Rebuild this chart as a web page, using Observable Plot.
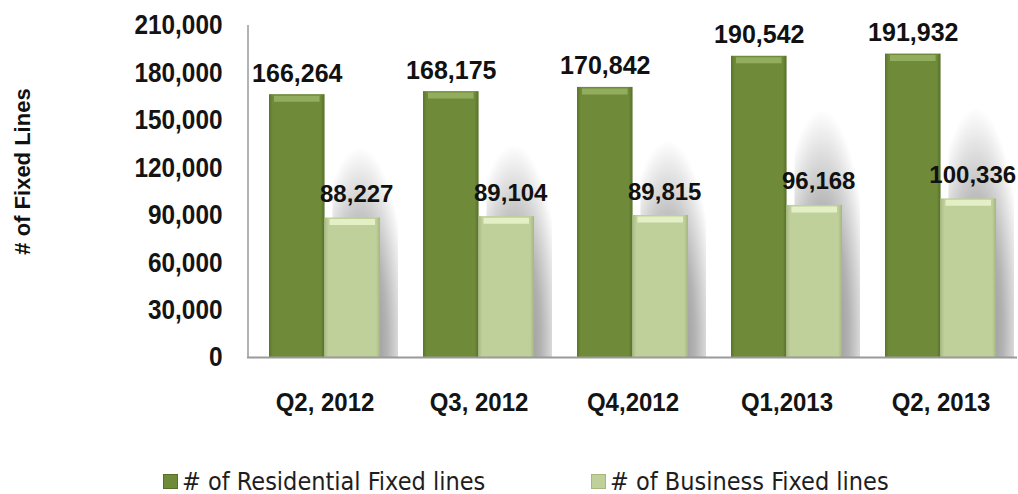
<!DOCTYPE html>
<html>
<head>
<meta charset="utf-8">
<script src="https://cdn.jsdelivr.net/npm/d3@7"></script>
<script src="https://cdn.jsdelivr.net/npm/@observablehq/plot@0.6"></script>
<style>
  html, body { margin: 0; padding: 0; background: #fff; }
  #wrap { position: relative; width: 1018px; height: 494px; overflow: hidden; }
  #legend { position: absolute; left: 0; top: 468px; width: 1018px; height: 26px;
            font-family: "DejaVu Sans Condensed", "Liberation Sans", sans-serif;
            font-size: 25px; color: #1e1e1e; }
  .item { position: absolute; top: 0; display: flex; align-items: center; height: 26px; white-space: nowrap; }
  .sw { width: 15px; height: 15px; margin-right: 4px; box-sizing: border-box; }
</style>
</head>
<body>
<div id="wrap"></div>
<script>
const quarters = ["Q2, 2012", "Q3, 2012", "Q4,2012", "Q1,2013", "Q2, 2013"];
const residential = [166264, 168175, 170842, 190542, 191932];
const business = [88227, 89104, 89815, 96168, 100336];
const yTicks = [0, 30000, 60000, 90000, 120000, 150000, 180000, 210000];
const seriesNames = ["# of Residential Fixed lines", "# of Business Fixed lines"];
const seriesColors = ["#6f8b39", "#bfd09a"];
const yTitle = "# of Fixed Lines";

const rows = quarters.map((q, i) => ({quarter: q, res: residential[i], bus: business[i]}));

const W = 1018, H = 494, ML = 247, MR = 1, MT = 25, MB = 137;
const PI = 0.28;
const step = (W - ML - MR) / quarters.length;
const half = step * (1 - PI) / 2;
const fmt = d3.format(",");
const font = "'Liberation Sans', Arial, sans-serif";

const chart = Plot.plot({
  width: W, height: H,
  marginLeft: ML, marginRight: MR, marginTop: MT, marginBottom: MB,
  style: {fontFamily: font, color: "#141414", background: "transparent"},
  x: {domain: quarters, paddingInner: PI, paddingOuter: PI / 2, label: null, axis: null},
  y: {domain: [0, 210000], label: null, axis: null},
  marks: [
    Plot.barY(rows, {x: "quarter", y: "res", insetLeft: half - 10, dx: 18, dy: 45, fill: "url(#gShadow)", clip: true, ariaLabel: "shadow"}),
    Plot.barY(rows, {x: "quarter", y: "res", insetRight: half, fill: "url(#gRes)"}),
    Plot.barY(rows, {x: "quarter", y: "bus", insetLeft: half, fill: "url(#gBus)"}),
    Plot.tickY(rows, {x: "quarter", y: "res", insetLeft: 5, insetRight: half + 5, dy: 4, stroke: "#93ad5e", strokeWidth: 6}),
    Plot.tickY(rows, {x: "quarter", y: "bus", insetLeft: half + 5, insetRight: 5, dy: 4, stroke: "#e4efc6", strokeWidth: 6}),
    Plot.ruleY([0], {stroke: "#9a9a9a", strokeWidth: 2}),
    Plot.ruleX([quarters[0]], {y1: 0, y2: 210000, dx: -step / 2, stroke: "#9a9a9a", strokeWidth: 1.5}),
    Plot.text(rows, {x: "quarter", y: "res", text: d => fmt(d.res), dx: -half / 2, dy: -13, lineAnchor: "bottom", fontSize: 25, fontWeight: "bold", fill: "#111", ariaLabel: "vlabel"}),
    Plot.text(rows, {x: "quarter", y: "bus", text: d => fmt(d.bus), dx: half / 2 + 4, dy: -16, lineAnchor: "bottom", fontSize: 24, fontWeight: "bold", fill: "#111", ariaLabel: "blabel"}),
    Plot.axisY({ticks: yTicks, tickSize: 0, tickPadding: 25, tickFormat: fmt, fontSize: 28, fontWeight: "bold", label: null}),
    Plot.axisX({tickSize: 0, tickPadding: 36, fontSize: 25, fontWeight: "bold", label: null}),
    Plot.text([yTitle], {frameAnchor: "left", textAnchor: "middle", rotate: -90, dx: -225, dy: -20, fontSize: 22, fontWeight: "bold", fill: "#111"})
  ]
});

// defs (gradients + blur) inside the chart's own svg
const svg = d3.select(chart);
const defs = svg.insert("defs", ":first-child");
function grad(id, edgeL, mid, edgeR) {
  const g = defs.append("linearGradient").attr("id", id).attr("x1", 0).attr("x2", 1).attr("y1", 0).attr("y2", 0);
  g.append("stop").attr("offset", 0).attr("stop-color", edgeL);
  g.append("stop").attr("offset", 0.07).attr("stop-color", mid);
  g.append("stop").attr("offset", 0.93).attr("stop-color", mid);
  g.append("stop").attr("offset", 1).attr("stop-color", edgeR);
}
grad("gRes", "#5a752b", seriesColors[0], "#566f28");
grad("gBus", "#a8ba82", seriesColors[1], "#a5b77d");
const rg = defs.append("radialGradient").attr("id", "gShadow").attr("cx", 0.42).attr("cy", 0.78).attr("r", 0.75);
rg.append("stop").attr("offset", 0).attr("stop-color", "#000").attr("stop-opacity", 0.5);
rg.append("stop").attr("offset", 0.55).attr("stop-color", "#000").attr("stop-opacity", 0.3);
rg.append("stop").attr("offset", 1).attr("stop-color", "#000").attr("stop-opacity", 0);
defs.append("filter").attr("id", "blur").attr("x", "-50%").attr("y", "-50%").attr("width", "200%").attr("height", "200%")
  .append("feGaussianBlur").attr("stdDeviation", 7);
svg.selectAll('g[aria-label="shadow"] rect').attr("filter", "url(#blur)");

const wrap = document.getElementById("wrap");
wrap.appendChild(chart);

// condense text horizontally to mimic the narrow face of the original
function condense(sel, f) {
  chart.querySelectorAll(sel).forEach(el => {
    const len = el.getComputedTextLength();
    el.setAttribute("textLength", (len * f).toFixed(1));
    el.setAttribute("lengthAdjust", "spacingAndGlyphs");
  });
}
condense('g[aria-label="y-axis tick label"] text', 0.87);
condense('g[aria-label="vlabel"] text', 0.9);
condense('g[aria-label="blabel"] text', 0.96);
condense('g[aria-label="x-axis tick label"] text', 0.96);

const legend = document.createElement("div");
legend.id = "legend";
const lefts = [163, 591];
seriesNames.forEach((name, i) => {
  const item = document.createElement("div");
  item.className = "item";
  item.style.left = lefts[i] + "px";
  const sw = document.createElement("span");
  sw.className = "sw";
  sw.style.background = seriesColors[i];
  sw.style.border = "1px solid " + (i === 0 ? "#56702a" : "#a5b77d");
  const t = document.createElement("span");
  t.textContent = name;
  item.appendChild(sw);
  item.appendChild(t);
  legend.appendChild(item);
});
wrap.appendChild(legend);
</script>
</body>
</html>
